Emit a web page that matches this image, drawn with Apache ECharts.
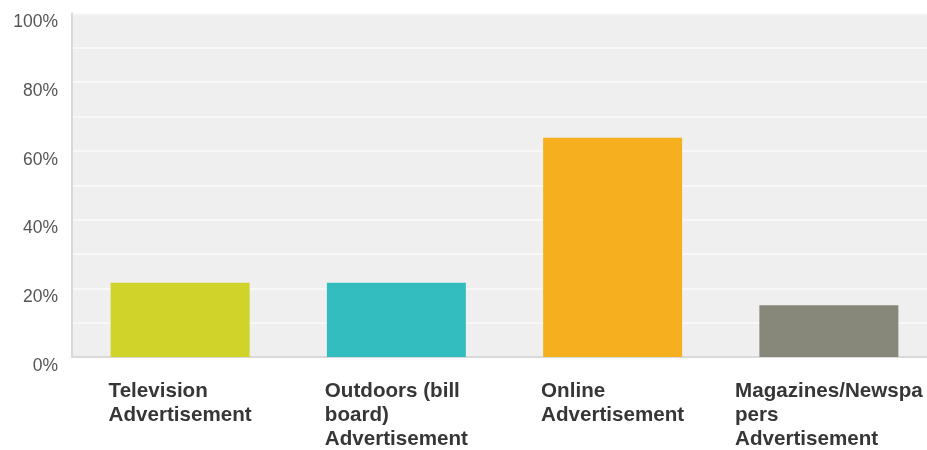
<!DOCTYPE html>
<html>
<head>
<meta charset="utf-8">
<script src="https://cdn.jsdelivr.net/npm/echarts@6/dist/echarts.min.js"></script>
<style>
  html, body { margin: 0; padding: 0; background: #ffffff; overflow: hidden; }
  #chart { width: 927px; height: 450px; }
</style>
</head>
<body>
<div id="chart"></div>
<script>
// Survey responses: where people noticed the advertising
const categories = [
  'Television\nAdvertisement',
  'Outdoors (bill\nboard)\nAdvertisement',
  'Online\nAdvertisement',
  'Magazines/Newspa\npers\nAdvertisement'
];
const shares = [21.6, 21.6, 63.8, 15.1];
const barColors = ['#CFD32A', '#33BDBF', '#F6AF1F', '#87877A'];
const yTicks = [0, 20, 40, 60, 80, 100];

const chart = echarts.init(document.getElementById('chart'), null, { renderer: 'canvas' });

chart.setOption({
  animation: false,
  grid: {
    left: 72, width: 865, top: 13.5, bottom: 93,
    containLabel: false,
    outerBoundsMode: 'none',
    show: true, backgroundColor: '#EFEFEF', borderWidth: 0
  },
  xAxis: {
    type: 'category',
    data: categories,
    axisTick: { show: false },
    axisLine: { show: true, lineStyle: { color: '#D9D9D9', width: 2 } },
    axisLabel: {
      interval: 0,
      margin: 22,
      align: 'center',
      hideOverlap: false,
      // each label block is centred under its bar, lines left-aligned inside it
      formatter: function (v) {
        return v.split('\n').map(function (s) { return '{a|' + s + '}'; }).join('\n');
      },
      rich: {
        a: {
          align: 'left',
          fontFamily: 'Liberation Sans, Arial, sans-serif',
          fontWeight: 'bold',
          fontSize: 20.6,
          lineHeight: 24,
          color: '#363636'
        }
      }
    }
  },
  yAxis: {
    type: 'value',
    min: 0, max: 100, interval: 10,
    axisLine: { show: true, lineStyle: { color: '#D9D9D9', width: 2 } },
    axisTick: { show: false },
    splitLine: { show: true, lineStyle: { color: '#F8F8F8', width: 2 } },
    axisLabel: {
      margin: 14,
      verticalAlign: 'top',
      fontFamily: 'Liberation Sans, Arial, sans-serif',
      fontSize: 17.5,
      color: '#555555',
      formatter: function (v) {
        return yTicks.indexOf(v) >= 0 ? v + '%' : '';
      }
    }
  },
  series: [{
    type: 'bar',
    data: shares.map(function (v, i) {
      return { value: v, itemStyle: { color: barColors[i] } };
    }),
    barWidth: 139
  }]
});
</script>
</body>
</html>
